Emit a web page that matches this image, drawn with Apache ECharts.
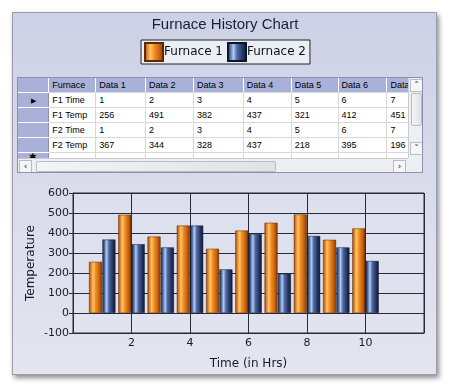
<!DOCTYPE html>
<html>
<head>
<meta charset="utf-8">
<script src="https://cdn.jsdelivr.net/npm/echarts@6/dist/echarts.min.js"></script>
<style>
html,body{margin:0;padding:0;background:#fff;width:450px;height:388px;overflow:hidden;}
#panel{position:absolute;left:12px;top:12px;width:425px;height:363px;
 background:linear-gradient(#cdd1e5,#d7daea 40%,#e3e5ef);
 box-shadow:2px 3px 5px rgba(0,0,0,0.45);border:1px solid #9a9cac;box-sizing:border-box;}
#chart{position:absolute;left:0;top:0;width:450px;height:388px;}
#grid{position:absolute;left:17px;top:77px;width:406px;height:96px;background:#fff;border:1px solid #8c91a8;box-sizing:border-box;overflow:hidden;
 font-family:"Liberation Sans",Arial,sans-serif;font-size:9px;color:#000;}
#grid table{border-collapse:collapse;table-layout:fixed;position:absolute;left:0;top:0;}
#grid td{height:14px;padding:0 0 0 3px;border-right:1px solid #d8d8d8;border-bottom:1px solid #d8d8d8;white-space:nowrap;overflow:hidden;}
#grid tr.hdr td{background:#aab1d9;border-right:1px solid #fff;color:#000;}
#grid td.rh{background:#aab1d9;border-bottom:1px solid #fff;border-right:1px solid #8c91a8;padding:0;text-align:center;}
#vs{position:absolute;left:390px;top:0;width:15px;height:80px;background:#eeeff3;border-left:1px solid #ccc;}
#hs{position:absolute;left:0;top:80px;width:390px;height:15px;background:#eeeff3;border-top:1px solid #ccc;}
#corner{position:absolute;left:390px;top:80px;width:15px;height:15px;background:#eeeff3;}
.btn{position:absolute;width:13px;height:13px;background:#f6f6f8;border:1px solid #b8bcc8;box-sizing:border-box;font-size:9px;line-height:11px;text-align:center;color:#222;font-family:"DejaVu Sans",sans-serif;}
.thumb{position:absolute;background:linear-gradient(90deg,#f4f4f6,#e0e2e8);border:1px solid #b8bcc8;box-sizing:border-box;border-radius:2px;}
</style>
</head>
<body>
<div id="panel"></div>
<div id="chart"></div>
<div id="grid"></div>
<script>
// ---- data ----
var times = [1, 2, 3, 4, 5, 6, 7, 8, 9, 10];
var furnace1Temp = [256, 491, 382, 437, 321, 412, 451, 493, 366, 423];
var furnace2Temp = [367, 344, 328, 437, 218, 395, 196, 385, 328, 260];
var seriesNames = ['Furnace 1', 'Furnace 2'];
var tableColumns = ['Furnace', 'Data 1', 'Data 2', 'Data 3', 'Data 4', 'Data 5', 'Data 6', 'Data 7'];
var tableRowNames = ['F1 Time', 'F1 Temp', 'F2 Time', 'F2 Temp'];
var yTicks = [-100, 0, 100, 200, 300, 400, 500, 600];
var xTicks = [2, 4, 6, 8, 10];

// ---- table ----
var colW = [31, 47, 50, 48, 50, 48, 47, 49, 30];
var rowsVals = [times, furnace1Temp, times, furnace2Temp];
var html = '<table><colgroup>';
colW.forEach(function(w){ html += '<col style="width:' + w + 'px">'; });
html += '</colgroup><tr class="hdr"><td class="rh"></td>';
tableColumns.forEach(function(c){ html += '<td>' + c + '</td>'; });
html += '<td></td></tr>';
tableRowNames.forEach(function(r, i){
  html += '<tr><td class="rh">' + (i === 0 ? '<span style="font-size:7px">&#9654;</span>' : '') + '</td><td>' + r + '</td>';
  for (var k = 0; k < 7; k++) html += '<td>' + rowsVals[i][k] + '</td>';
  html += '<td></td></tr>';
});
html += '<tr><td class="rh" style="font-size:9px;line-height:8px;vertical-align:top">&#10033;</td>';
for (var k = 0; k < 9; k++) html += '<td></td>';
html += '</tr></table>';
html += '<div id="vs"><div class="btn" style="left:1px;top:1px">&#708;</div><div class="thumb" style="left:2px;top:15px;width:11px;height:33px"></div><div class="btn" style="left:1px;top:64px">&#709;</div></div>';
html += '<div id="hs"><div class="btn" style="left:1px;top:1px">&lsaquo;</div><div class="thumb" style="left:18px;top:2px;width:240px;height:11px"></div><div class="btn" style="left:375px;top:1px">&rsaquo;</div></div>';
html += '<div id="corner"></div>';
document.getElementById('grid').innerHTML = html;

// ---- chart ----
function grad(stops){
  return new echarts.graphic.LinearGradient(0, 0, 1, 0, stops.map(function(s){ return {offset: s[0], color: s[1]}; }));
}
var orange = grad([[0,'#9a4808'],[0.12,'#d8741c'],[0.32,'#ffc469'],[0.5,'#f29028'],[0.8,'#c4600c'],[1,'#7a3200']]);
var blue = grad([[0,'#1c2848'],[0.15,'#4a66a0'],[0.32,'#b4caf2'],[0.5,'#4f6aa4'],[0.8,'#22325e'],[1,'#121a34']]);

var chart = echarts.init(document.getElementById('chart'), null, {renderer: 'canvas'});
chart.setOption({
  animation: false,
  title: {
    text: 'Furnace History Chart', left: 'center', top: 12,
    textStyle: {fontFamily: 'Liberation Sans', fontSize: 15, fontWeight: 'normal', color: '#1c1f3c'}
  },
  legend: {
    data: seriesNames, left: 'center', top: 40,
    itemWidth: 18, itemHeight: 18, itemGap: 4, padding: [2, 4, 2, 3],
    borderColor: '#222', borderWidth: 1, backgroundColor: '#eceef6', borderRadius: 0,
    icon: 'rect',
    textStyle: {fontFamily: 'DejaVu Sans', fontSize: 12, color: '#111', padding: [0, 0, 0, -4]}
  },
  grid: {
    left: 73, right: 26, top: 193, bottom: 55, show: true, containLabel: false, outerBoundsMode: 'none',
    borderColor: '#2a2a3a', borderWidth: 1, backgroundColor: 'rgba(226,229,240,0.35)'
  },
  xAxis: {
    type: 'value', min: 0, max: 12, interval: 2,
    name: 'Time (in Hrs)', nameLocation: 'middle', nameGap: 25, nameMoveOverlap: false,
    nameTextStyle: {fontFamily: 'DejaVu Sans', fontSize: 12, color: '#1a1a2a'},
    axisLine: {show: true, onZero: false, lineStyle: {color: '#2a2a3a'}},
    axisTick: {show: false},
    axisLabel: {margin: 5, fontFamily: 'DejaVu Sans', fontSize: 11, color: '#1a1a2a',
      formatter: function(v){ return xTicks.indexOf(v) >= 0 ? String(v) : ''; }},
    splitLine: {show: true, lineStyle: {color: '#2a2a3a', width: 1}}
  },
  yAxis: {
    type: 'value', min: yTicks[0], max: yTicks[yTicks.length - 1], interval: 100,
    name: 'Temperature', nameLocation: 'middle', nameGap: 36, nameMoveOverlap: false,
    nameTextStyle: {fontFamily: 'DejaVu Sans', fontSize: 12, color: '#1a1a2a'},
    axisLine: {show: true, lineStyle: {color: '#2a2a3a'}},
    axisTick: {show: true, inside: false, length: 4, lineStyle: {color: '#2a2a3a'}},
    axisLabel: {margin: 4, fontFamily: 'DejaVu Sans', fontSize: 11, color: '#1a1a2a'},
    splitLine: {show: true, lineStyle: {color: '#2a2a3a', width: 1}}
  },
  series: [
    {name: seriesNames[0], type: 'bar', barWidth: 13, barGap: '3%',
     itemStyle: {color: orange, borderColor: '#5a2800', borderWidth: 0.5},
     data: times.map(function(t, i){ return [t, furnace1Temp[i]]; })},
    {name: seriesNames[1], type: 'bar', barWidth: 13, barGap: '3%',
     itemStyle: {color: blue, borderColor: '#0c1228', borderWidth: 0.5},
     data: times.map(function(t, i){ return [t, furnace2Temp[i]]; })}
  ]
});
</script>
</body>
</html>
